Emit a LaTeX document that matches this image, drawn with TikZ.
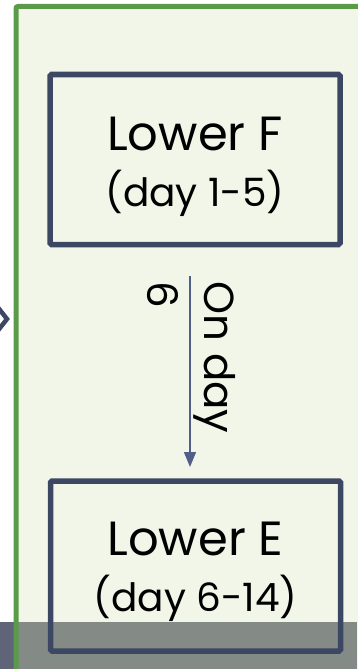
\documentclass[tikz,border=0pt]{standalone}
\usepackage{fontspec}
\setmainfont{Poppins}
\usetikzlibrary{arrows.meta}
\definecolor{panelfill}{HTML}{F2F6E9}
\definecolor{panelgreen}{HTML}{5B9A48}
\definecolor{navy}{HTML}{3C4763}
\definecolor{bandgray}{HTML}{848B87}
\definecolor{bandslate}{HTML}{5F6479}
\definecolor{arrowblue}{HTML}{4F5F8A}
\newcommand{\subline}[1]{{\fontsize{39}{56}\selectfont #1}}
\tikzset{
  stagebox/.style={draw=navy, line width=5.5pt, rounded corners=1.5pt,
    minimum width=290pt, minimum height=170pt, inner sep=0pt},
  stagetext/.style={align=center, inner sep=0pt, text=black,
    font=\fontsize{48}{56}\selectfont},
  flow/.style={draw=arrowblue, line width=1.5pt,
    -{Triangle[width=12pt,length=15pt]}},
  flowlabel/.style={rotate=-90, align=left, inner sep=0pt,
    font=\fontsize{42}{57}\selectfont}
}
\begin{document}
\begin{tikzpicture}[x=1pt,y=-1pt]
\useasboundingbox (0,0) rectangle (357,669);
\fill[white] (0,0) rectangle (357,669);
% panel fill
\fill[panelfill] (16,6.5) rectangle (380,700);
% bottom band
\fill[bandslate] (0,622) rectangle (16,669);
\fill[bandgray] (16,622) rectangle (357,669);
% panel border
\draw[panelgreen, line width=5pt, rounded corners=2pt] (16,700) -- (16,6.5) -- (380,6.5);
% chevron
\draw[navy, line width=4.5pt, miter limit=10] (-4,305) -- (7,319) -- (-4,333);
% boxes
\node[stagebox] (lowerF) at (195,159.5) {};
\node[stagebox] (lowerE) at (195.5,566) {};
\node[stagetext, yshift=-7pt] (lowerFtext) at (lowerF.center) {Lower F\\\subline{(day 1-5)}};
\node[stagetext, yshift=-6pt] (lowerEtext) at (lowerE.center) {Lower E\\\subline{(day 6-14)}};
% connector
\draw[flow, shorten <=28.75pt, shorten >=11.25pt] (lowerF.south -| 190,0) -- (lowerE.north -| 190,0)
  node[flowlabel, midway, xshift=-5pt, yshift=1pt] (onday) {On day\\6};
\end{tikzpicture}
\end{document}
